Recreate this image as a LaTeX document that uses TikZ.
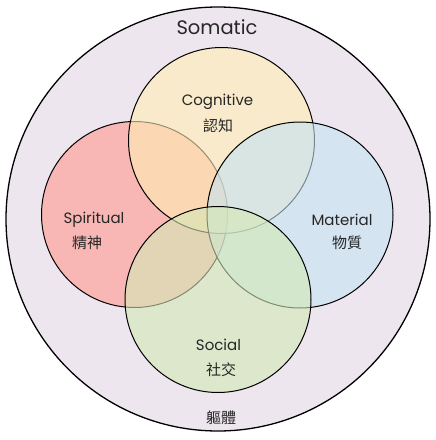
\documentclass[tikz,border=0pt]{standalone}
\usepackage{fontspec}
\setmainfont{Poppins}
\newfontfamily\cjk{Noto Sans CJK TC}
\begin{document}
\begin{tikzpicture}[x=1pt,y=-1pt,
  venn/.style={circle,draw=black,line width=1pt,inner sep=0pt,outer sep=0pt,minimum size=186pt,fill opacity=0.6,text opacity=1},
  lbl/.style={text=black!85,font=\fontsize{15}{17}\selectfont,inner sep=0pt},
  clbl/.style={text=black!85,font=\cjk\fontsize{15}{17}\selectfont,inner sep=0pt}]
\definecolor{bgL}{RGB}{238,230,239}
\definecolor{spC}{RGB}{255,153,141}
\definecolor{coC}{RGB}{255,237,179}
\definecolor{maC}{RGB}{195,227,242}
\definecolor{soC}{RGB}{211,233,182}
\useasboundingbox (0,0) rectangle (436,440);
\fill[white] (0,0) rectangle (436,440);
\node[circle,draw=black,line width=1.3pt,fill=bgL,inner sep=0pt,outer sep=0pt,minimum size=424pt] (som) at (218,219) {};
\node[venn,fill=spC] (spi) at (134.5,214.5) {};
\node[venn,fill=coC] (cog) at (221.5,140.5) {};
\node[venn,fill=maC] (mat) at (300,215) {};
\node[venn,fill=soC] (soc) at (218,299.5) {};
\node[lbl,font=\fontsize{19.5}{22}\selectfont] (tsom) at (217,27) {Somatic};
\node[lbl] (tcog) at (217.5,102) {Cognitive};
\node[clbl] (ccog) at (218,126) {認知};
\node[lbl] (tspi) at (94,220) {Spiritual};
\node[clbl] (cspi) at (87,243) {精神};
\node[lbl] (tmat) at (342,220) {Material};
\node[clbl] (cmat) at (347,243) {物質};
\node[lbl] (tsoc) at (218.5,345) {Social};
\node[clbl] (csoc) at (221,370) {社交};
\node[clbl] (csom) at (221,418) {軀體};
\end{tikzpicture}
\end{document}
